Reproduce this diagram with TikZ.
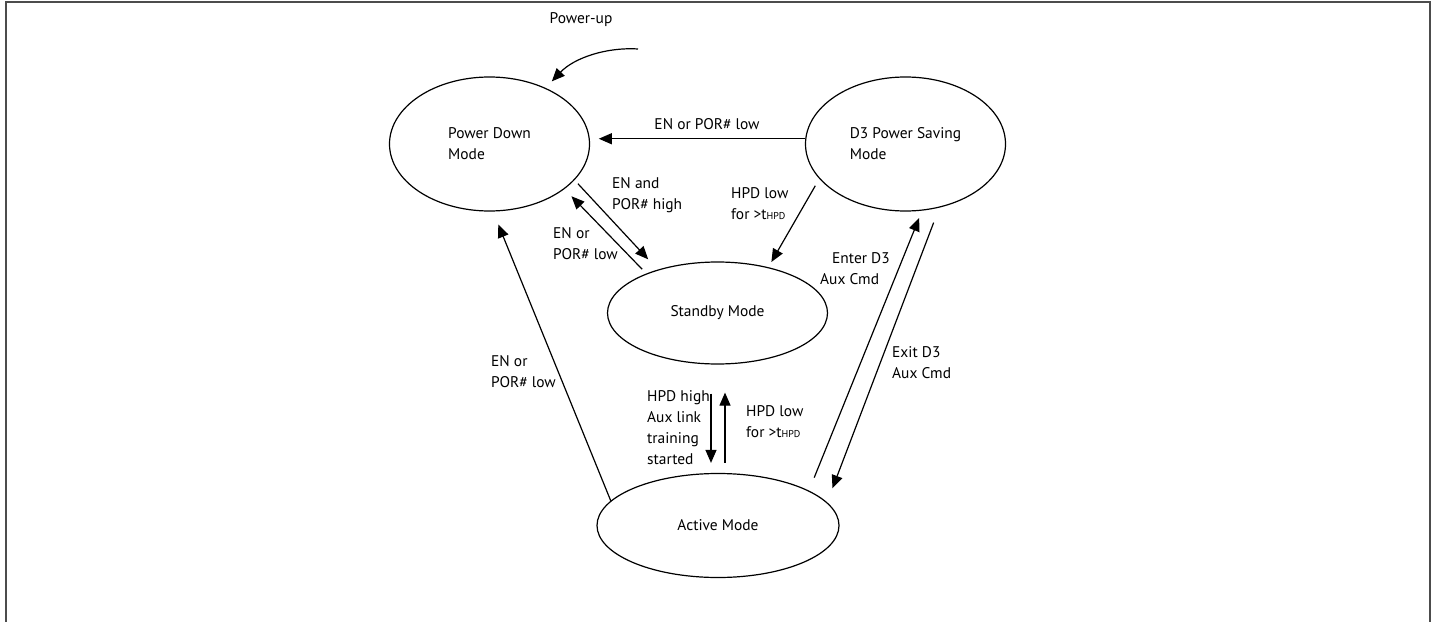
\documentclass[tikz,border=0pt]{standalone}
\usepackage{fontspec}
\setmainfont{PT Sans}
\usetikzlibrary{arrows.meta,shapes.geometric}

\begin{document}
\begin{tikzpicture}[x=1bp,y=-1bp,
    state/.style={draw, ellipse, line width=1.2bp, align=left, font=\fontsize{15.5}{21}\selectfont},
    lbl/.style={align=left, inner sep=0pt, font=\fontsize{15.5}{21}\selectfont},
    arr/.style={-{Triangle[length=13bp,width=11bp]}, line width=1.2bp}]
    \useasboundingbox (0,0) rectangle (1435,622);

    % Frame
    \draw[black!70, line width=1.5bp] (6,622) -- (6,2) -- (1430,2) -- (1430,622);

    % States
    \node[state, minimum width=200bp, minimum height=134bp] (PowerDown) at (489.5,144) {Power Down\\Mode};
    \node[state, minimum width=200bp, minimum height=134bp] (DthreeSave) at (905.5,144) {D3 Power Saving\\Mode};
    \node[state, minimum width=220bp, minimum height=102bp] (Standby) at (717.5,313) {Standby Mode};
    \node[state, minimum width=242bp, minimum height=104bp] (Active) at (718,525.5) {Active Mode};

    % Power-up
    \coordinate (PowerUp) at (638,49);
    \node[lbl] (PowerUpLabel) at (581,20) {Power-up};
    \draw[arr, shorten >=9bp] (PowerUp) .. controls (606,47) and (574,58) .. (PowerDown.45);

    % D3 -> Power Down
    \draw[arr, shorten >=9bp] (DthreeSave.177) -- (PowerDown.3);
    \node[lbl] (DthreeOff) at (707,124) {EN or POR\# low};

    % Power Down <-> Standby
    \draw[arr, shorten <=5bp, shorten >=14bp] (PowerDown.-23) -- (Standby.144);
    \node[lbl, anchor=west] (WakeUp) at (612,195) {EN and\\POR\# high};
    \draw[arr, shorten <=6bp, shorten >=10bp] (Standby.151) -- (PowerDown.-31);
    \node[lbl, anchor=west] (StandbyOff) at (553,244) {EN or\\POR\# low};

    % D3 -> Standby
    \draw[arr, shorten <=8bp, shorten >=6bp] (DthreeSave.-158.5) -- (Standby.42);
    \node[lbl, anchor=west] (HPDlowD) at (731,204) {HPD low\\for >t{\fontsize{10}{10}\selectfont HPD}};

    % Active -> Power Down
    \draw[arr, shorten >=14bp] (Active.167) -- (PowerDown.-87);
    \node[lbl, anchor=west] (ActiveOff) at (491,372) {EN or\\POR\# low};

    % Standby <-> Active
    \draw[arr, shorten <=29bp, shorten >=10bp] ([xshift=-6.5bp]Standby.south) -- ([xshift=-7bp]Active.north);
    \draw[arr, shorten <=10bp, shorten >=28bp] ([xshift=7bp]Active.north) -- ([xshift=7.5bp]Standby.south);
    \node[lbl, anchor=west] (LinkUp) at (647,428) {HPD high\\Aux link\\training\\started};
    \node[lbl, anchor=west] (HPDlowA) at (746,422) {HPD low\\for >t{\fontsize{10}{10}\selectfont HPD}};

    % Active <-> D3
    \draw[arr, shorten <=14bp, shorten >=8bp] (Active.21) -- (DthreeSave.-76.8);
    \node[lbl, anchor=west] (EnterD) at (820,268.5) {\hspace*{12bp}Enter D3\\Aux Cmd};
    \draw[arr, shorten <=16bp, shorten >=15bp] (DthreeSave.-62) -- (Active.12.5);
    \node[lbl, anchor=west] (ExitD) at (892,363) {Exit D3\\Aux Cmd};
\end{tikzpicture}
\end{document}
